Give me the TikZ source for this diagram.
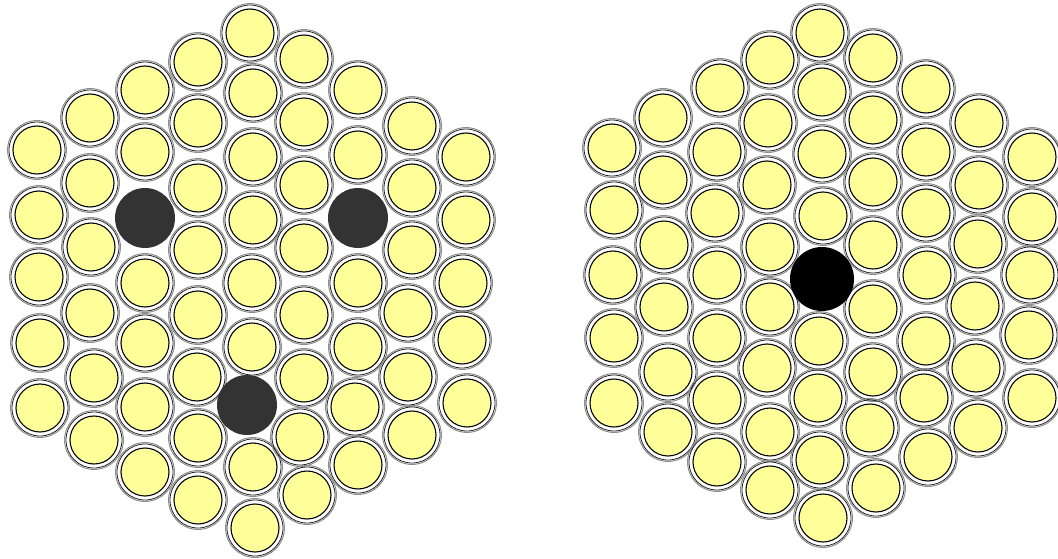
\documentclass[tikz,border=0pt]{standalone}
\definecolor{fuel}{HTML}{FFFF99}
\definecolor{absorbergray}{HTML}{333333}
\tikzset{
  cladout/.style={draw=black!45,line width=1pt},
  cladin/.style={draw=black!85,line width=0.8pt},
  fuelrod/.style={draw=black,fill=fuel,line width=1.1pt},
  absorber/.style={fill=absorbergray},
}
\newcommand\fuelpin[2]{%
\draw[cladout] (#1,#2) circle(29.4pt);
\draw[cladin] (#1,#2) circle(28pt);
\draw[fuelrod] (#1,#2) circle(24pt);}
\begin{document}
\begin{tikzpicture}[x=1pt,y=-1pt]
\useasboundingbox (0,0) rectangle (1058,559);
% left bundle
\foreach \x/\y in {37/150,39/215,39/277,40/343,40/408,
  90/118,90/183,91/247,90/313,94/378,94/440,
  145/90,145/152,145/283,145/343,145/407,145/472,
  198/62,198/123,198/188,198/250,198/315,197/377,198/438,198/500,
  250/33,253/93,253/157,253/220,252/283,252/347,253/467,255/528,
  304/59,304/122,304/185,304/248,304/315,304/378,300/437,307/495,
  358/90,358/155,358/283,358/347,355/407,358/465,
  412/126,412/188,412/250,408/313,408/377,412/435,
  466/157,466/220,463/283,462/340,467/403}
\fuelpin{\x}{\y};
\foreach \x/\y in {145/218,358/218,247/405}
\fill[absorber] (\x,\y) circle(30pt);
% right bundle
\foreach \x/\y in {612/148,614/210,613/275,614/338,614/403,
  663/118,663/180,664/245,664/307,668/372,668/432,
  720/88,717/152,715/213,717/275,717/338,717/400,717/462,
  770/60,768/123,767/185,770/247,770/307,767/368,770/432,770/490,
  820/33,822/92,822/154,823/216,819/341,818/398,820/460,823/518,
  873/58,873/120,873/182,873/245,873/309,873/372,870/428,876/488,
  926/89,926/152,926/213,927/275,926/341,924/398,928/457,
  979/123,979/185,978/244,975/306,976/368,978/428,
  1032/157,1032/217,1030/275,1029/335,1032/398}
\fuelpin{\x}{\y};
\fill (822,279) circle(32pt);
\end{tikzpicture}
\end{document}
